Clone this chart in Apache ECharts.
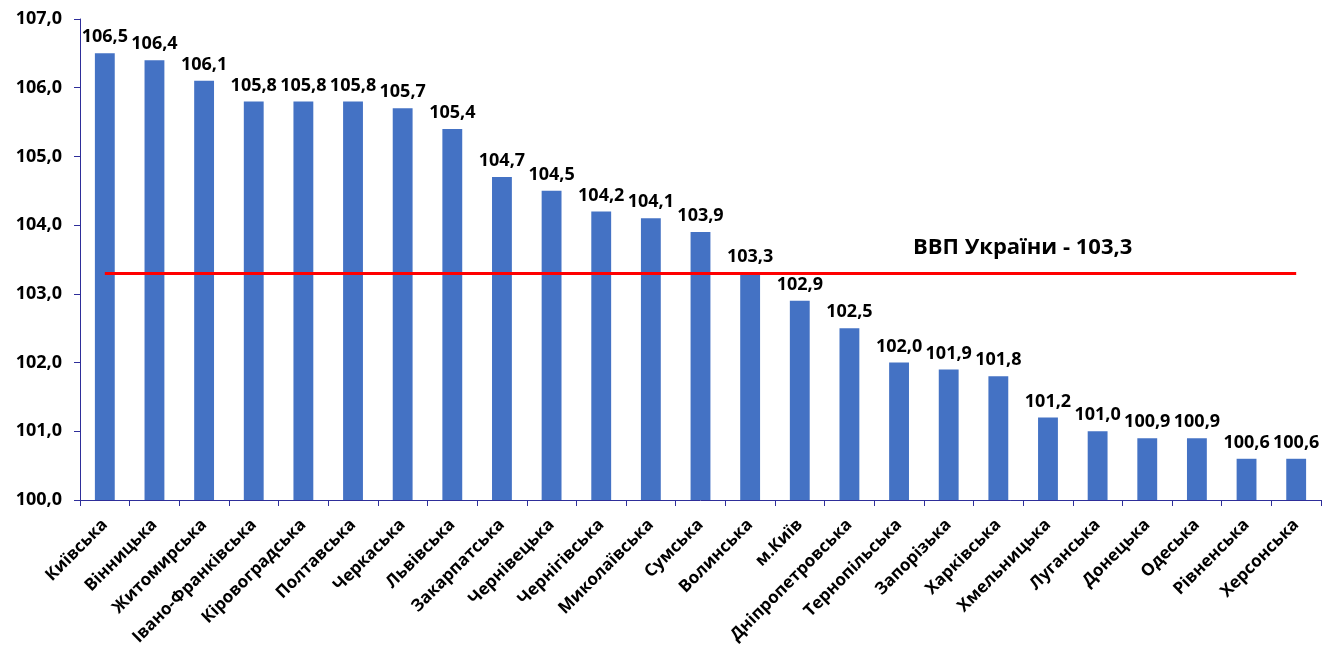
<!DOCTYPE html>
<html><head><meta charset="utf-8">
<script src="https://cdn.jsdelivr.net/npm/echarts@6/dist/echarts.min.js"></script>
<style>html,body{margin:0;padding:0;background:#fff}#c{width:1330px;height:653px}</style>
</head><body><div id="c"></div>
<script>
const categories = ['Київська','Вінницька','Житомирська','Івано-Франківська','Кіровоградська','Полтавська','Черкаська','Львівська','Закарпатська','Чернівецька','Чернігівська','Миколаївська','Сумська','Волинська','м.Київ','Дніпропетровська','Тернопільська','Запорізька','Харківська','Хмельницька','Луганська','Донецька','Одеська','Рівненська','Херсонська'];
const values = [106.5,106.4,106.1,105.8,105.8,105.8,105.7,105.4,104.7,104.5,104.2,104.1,103.9,103.3,102.9,102.5,102.0,101.9,101.8,101.2,101.0,100.9,100.9,100.6,100.6];
const gdpUkraine = 103.3;
const gdpLabel = 'ВВП України - 103,3';
const fmt = v => Number(v).toFixed(1).replace('.', ',');
const FONT = 'Open Sans';
const chart = echarts.init(document.getElementById('c'));
chart.setOption({
  animation: false,
  grid: {left: 80, right: 9, top: 19, bottom: 153},
  xAxis: {
    type: 'category', data: categories,
    axisLine: {lineStyle: {color: '#2e2e9a', width: 1}},
    axisTick: {show: true, length: 6, lineStyle: {color: '#2e2e9a'}},
    axisLabel: {rotate: 45, interval: 0, color: '#000', fontFamily: FONT, fontWeight: 'bold', fontSize: 17, margin: 22}
  },
  yAxis: {
    type: 'value', min: 100, max: 107, interval: 1,
    splitLine: {show: false},
    axisLine: {show: true, lineStyle: {color: '#2e2e9a', width: 1}},
    axisTick: {show: true, length: 6, lineStyle: {color: '#2e2e9a'}},
    axisLabel: {formatter: fmt, color: '#000', fontFamily: FONT, fontWeight: 'bold', fontSize: 18, margin: 18}
  },
  series: [{
    type: 'bar', data: values, barWidth: '40%',
    itemStyle: {color: '#4472c4'},
    label: {show: true, position: 'top', formatter: p => fmt(p.value), color: '#000', fontFamily: FONT, fontWeight: 'bold', fontSize: 18, distance: 7},
    markLine: {
      symbol: 'none', silent: true,
      lineStyle: {color: '#ff0000', width: 3, type: 'solid'},
      label: {show: false},
      data: [[{coord: [categories[0], gdpUkraine]}, {coord: [categories[categories.length-1], gdpUkraine]}]]
    }
  }],
  graphic: [{type: 'text', left: 913, top: 237, style: {text: gdpLabel, fill: '#000', font: 'bold 22px "Open Sans"'}}]
});
</script></body></html>
